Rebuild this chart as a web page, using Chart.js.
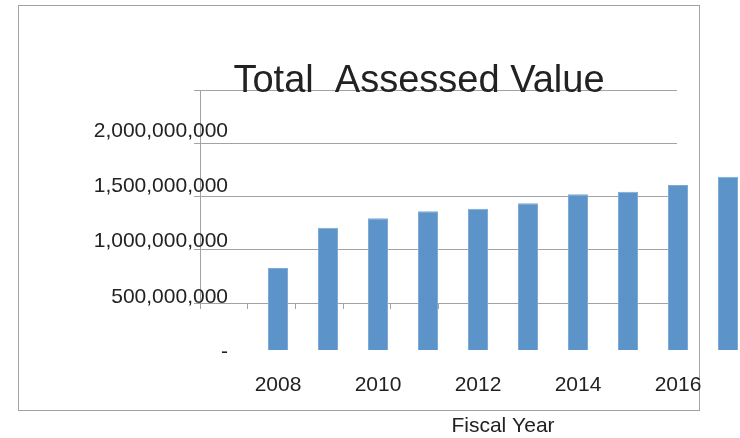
<!DOCTYPE html>
<html lang="en">
<head>
    <meta charset="UTF-8">
    <title>Total Assessed Value</title>
    <script src="https://cdn.jsdelivr.net/npm/chart.js"></script>
    <style>
        body {
            margin: 0;
            background: #fff;
        }
        #wrap {
            position: relative;
            width: 740px;
            height: 438px;
            overflow: hidden;
        }
        #frameBox {
            position: absolute;
            left: 18px;
            top: 5px;
            width: 680px;
            height: 404px;
            border: 1px solid #a3a3a3;
        }
        canvas {
            position: absolute;
            left: 0;
            top: 0;
        }
    </style>
</head>
<body>
    <div id="wrap">
        <div id="frameBox"></div>
        <canvas id="gridChart" width="740" height="438"></canvas>
        <canvas id="valueChart" width="800" height="438"></canvas>
    </div>

    <script>
        const years = ['2008', '2009', '2010', '2011', '2012', '2013', '2014', '2015', '2016', '2017'];
        const assessedValues = [742000000, 1107000000, 1192000000, 1255000000, 1279000000,
                                1328000000, 1409000000, 1433000000, 1493000000, 1568000000];
        const valueTicks = [0, 500000000, 1000000000, 1500000000, 2000000000];

        const FONT = "'Liberation Sans', Arial, sans-serif";
        const TEXT = '#222222';
        const GRID = '#a3a3a3';

        Chart.defaults.font.family = FONT;
        Chart.defaults.color = TEXT;

        const yMin = valueTicks[0];
        const yMax = valueTicks[valueTicks.length - 1];
        const yStep = valueTicks[1] - valueTicks[0];

        // the gray plot frame (gridlines + tick marks), sits a bit off from the bars
        new Chart(document.getElementById('gridChart').getContext('2d'), {
            type: 'bar',
            data: { labels: years, datasets: [] },
            options: {
                responsive: false,
                animation: false,
                devicePixelRatio: 1,
                layout: { padding: { left: 194, right: 63, top: 90, bottom: 129 } },
                plugins: { legend: { display: false }, tooltip: { enabled: false } },
                scales: {
                    x: {
                        offset: true,
                        grid: { offset: true, drawOnChartArea: false, tickLength: 6, color: GRID },
                        border: { display: true, color: GRID },
                        ticks: { display: false },
                        afterFit: s => { s.height = 6; }
                    },
                    y: {
                        min: yMin,
                        max: yMax,
                        ticks: { display: false, stepSize: yStep },
                        grid: { color: GRID, tickLength: 6 },
                        border: { display: true, color: GRID },
                        afterFit: s => { s.width = 6; }
                    }
                }
            }
        });

        // bars, value labels, years and titles
        new Chart(document.getElementById('valueChart').getContext('2d'), {
            type: 'bar',
            data: {
                labels: years,
                datasets: [{
                    label: 'Total Assessed Value',
                    data: assessedValues,
                    backgroundColor: '#5c94c9',
                    borderColor: '#7eaad5',
                    borderWidth: 1,
                    barPercentage: 0.4,
                    categoryPercentage: 1.0
                }]
            },
            options: {
                responsive: false,
                animation: false,
                devicePixelRatio: 1,
                layout: { padding: { left: 85, right: 47, top: 0, bottom: 0 } },
                plugins: {
                    legend: { display: false },
                    tooltip: { enabled: false },
                    title: {
                        display: true,
                        text: 'Total  Assessed Value',
                        color: TEXT,
                        font: { size: 38, weight: 'normal' },
                        padding: { top: 59, bottom: 24.4 }
                    }
                },
                scales: {
                    x: {
                        grid: { display: false, drawTicks: false },
                        border: { display: false },
                        ticks: {
                            autoSkip: false,
                            maxRotation: 0,
                            padding: 23,
                            font: { size: 21 },
                            callback: function (val, i) {
                                return i % 2 === 0 ? this.getLabelForValue(val) : '';
                            }
                        },
                        title: {
                            display: true,
                            text: 'Fiscal Year',
                            font: { size: 21 },
                            padding: { top: 0, bottom: -1 }
                        },
                        afterFit: s => { s.height = 88; }
                    },
                    y: {
                        min: yMin,
                        max: yMax,
                        grid: { display: false, drawTicks: false },
                        border: { display: false },
                        ticks: {
                            stepSize: yStep,
                            padding: 25,
                            labelOffset: 2,
                            font: { size: 21 },
                            callback: v => v === 0 ? '-' : v.toLocaleString('en-US')
                        },
                        afterFit: s => { s.width = 168; }
                    }
                }
            }
        });
    </script>
</body>
</html>
